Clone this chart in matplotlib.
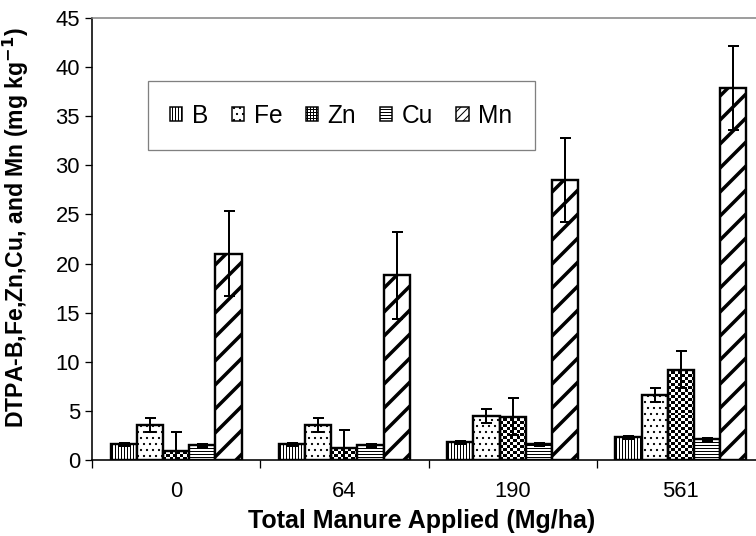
import numpy as np
import matplotlib.pyplot as plt
import matplotlib.patches as mpatches

plt.rcParams['font.family'] = ['Liberation Sans', 'DejaVu Sans']

# Data
categories = ['0', '64', '190', '561']
elements = ['B', 'Fe', 'Zn', 'Cu', 'Mn']

b_mean = [1.6, 1.6, 1.8, 2.3]
b_err = [0.15, 0.15, 0.15, 0.15]
fe_mean = [3.6, 3.6, 4.5, 6.6]
fe_err = [0.7, 0.7, 0.7, 0.7]
zn_mean = [0.9, 1.2, 4.4, 9.2]
zn_err = [1.9, 1.9, 1.9, 1.9]
cu_mean = [1.5, 1.5, 1.6, 2.1]
cu_err = [0.15, 0.15, 0.15, 0.15]
mn_mean = [21.0, 18.8, 28.5, 37.9]
mn_err = [4.3, 4.4, 4.3, 4.3]

means = [b_mean, fe_mean, zn_mean, cu_mean, mn_mean]
errs = [b_err, fe_err, zn_err, cu_err, mn_err]
hatches = ['||||', '..', None, '----', '/']
legend_hatches = ['||||', '..', '++++', '----', '///']

fig = plt.figure(figsize=(756 / 72, 536 / 72), dpi=72)
ax = fig.add_axes([92 / 756, 76 / 536, 673 / 756, 442 / 536])

x = np.arange(len(categories))
width = 0.156
offsets = (np.arange(len(elements)) - 2) * width

for i, name in enumerate(elements):
    hlw = 3.5 if name == 'Mn' else 1.0
    with plt.rc_context({'hatch.linewidth': hlw}):
        bars = ax.bar(x + offsets[i], means[i], width,
                      facecolor='none' if name == 'Zn' else 'white',
                      edgecolor='black', hatch=hatches[i],
                      linewidth=2.4, zorder=2)
    if name == 'Zn':
        # checkerboard fill, clipped to each bar
        for bar in bars:
            x0, w, h = bar.get_x(), bar.get_width(), bar.get_height()
            cell = 0.3
            ny = int(np.ceil(h / cell))
            checker = np.indices((ny, 8)).sum(axis=0) % 2
            im = ax.imshow(checker, cmap='gray', origin='lower',
                           extent=(x0, x0 + w, 0, ny * cell),
                           interpolation='nearest', aspect='auto', zorder=1.9)
            im.set_clip_path(bar)
    ax.errorbar(x + offsets[i], means[i], yerr=errs[i], fmt='none',
                ecolor='black', elinewidth=2, capsize=5.5, capthick=2, zorder=3)

ax.set_xlim(-0.5, len(categories) - 0.5)
ax.set_ylim(0, 45)
ax.set_yticks(np.arange(0, 46, 5))

ax.set_xticks(np.arange(len(categories) + 1) - 0.5)
ax.set_xticklabels([])
ax.set_xticks(x, minor=True)
ax.set_xticklabels(categories, minor=True)
ax.tick_params(axis='x', which='major', length=8, width=1.3, direction='out')
ax.tick_params(axis='x', which='minor', length=0, pad=21, labelsize=22)
ax.tick_params(axis='y', length=7, width=1.3, pad=5, labelsize=22)

ax.spines['right'].set_visible(False)
ax.spines['top'].set_color('#808080')
ax.spines['top'].set_linewidth(1.5)
ax.spines['left'].set_linewidth(1.6)
ax.spines['bottom'].set_linewidth(1.6)

ax.set_xlabel('Total Manure Applied (Mg/ha)', fontsize=25, fontweight='bold')
ax.xaxis.set_label_coords(0.49, -0.11)
ax.set_ylabel('DTPA-B,Fe,Zn,Cu, and Mn (mg kg$^{\\mathbf{-1}}$)', fontsize=23,
              fontweight='bold')
ax.yaxis.set_label_coords(-0.09, 0.525)

handles = []
for i, name in enumerate(elements):
    with plt.rc_context({'hatch.linewidth': 2.0 if name == 'Mn' else 1.0}):
        handles.append(mpatches.Patch(facecolor='white', edgecolor='black',
                                      hatch=legend_hatches[i], linewidth=1.5,
                                      label=name))
leg = ax.legend(handles=handles, loc='center', bbox_to_anchor=(0.3705, 0.7794),
                ncol=5, fontsize=24.5, frameon=True, fancybox=False,
                framealpha=1, edgecolor='#808080', borderpad=0.9,
                handlelength=0.5, handleheight=0.5, handletextpad=0.4,
                columnspacing=0.95)
leg.get_frame().set_linewidth(1.3)

fig.savefig('out.png', dpi=72)
